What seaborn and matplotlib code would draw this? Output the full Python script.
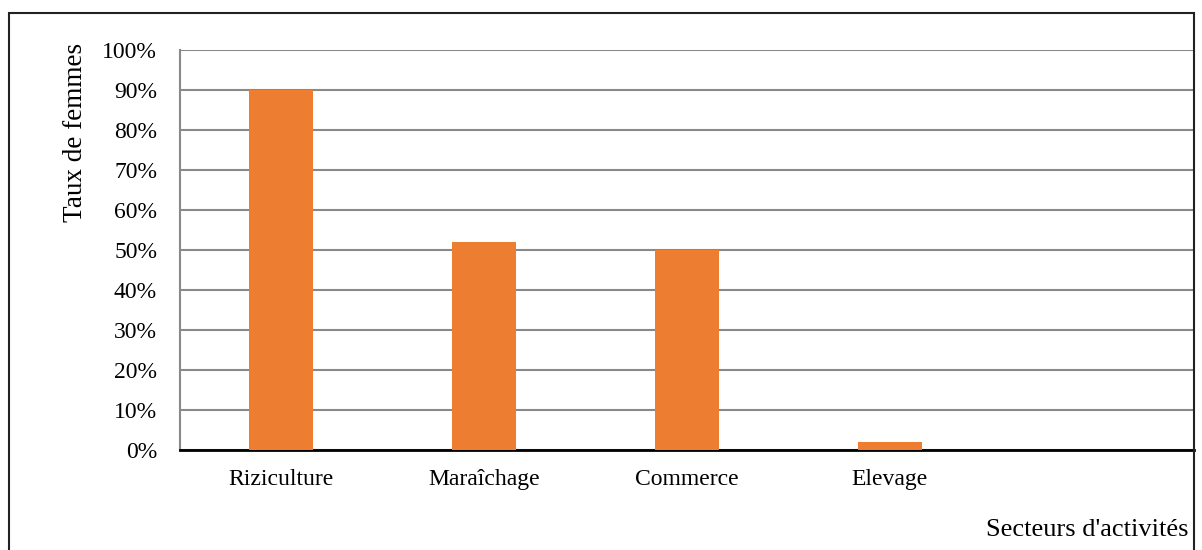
import pandas as pd
import matplotlib
matplotlib.use("Agg")
import matplotlib.pyplot as plt
import seaborn as sns
from matplotlib.patches import Rectangle
from matplotlib.ticker import FuncFormatter, MultipleLocator

# ===============================
# Données
# ===============================
secteurs = ["Riziculture", "Maraîchage", "Commerce", "Elevage"]
taux_femmes = [90, 52, 50, 2]  # en %

df = pd.DataFrame({"Secteur": secteurs, "Taux": taux_femmes})

# ===============================
# Plot
# ===============================
sns.set_style("white")
plt.rcParams["font.family"] = ["Liberation Serif", "DejaVu Serif"]
plt.rcParams["text.color"] = "black"
plt.rcParams["xtick.color"] = "black"
plt.rcParams["ytick.color"] = "black"

fig = plt.figure(figsize=(12.02, 5.5), dpi=100)
ax = fig.add_axes([180 / 1202, 1 - 450 / 550, 1014 / 1202, 400 / 550])

sns.barplot(data=df, x="Secteur", y="Taux", color="#ED7D31",
            saturation=1, width=0.315, linewidth=0, ax=ax, zorder=3)

# un cinquième emplacement vide à droite, comme dans l'original
ax.set_xlim(-0.5, 4.5)
ax.set_ylim(0, 100)
ax.yaxis.set_major_locator(MultipleLocator(10))
ax.yaxis.set_major_formatter(FuncFormatter(lambda v, p: f"{v:.0f}%"))

ax.grid(axis="y", color="#898989", linewidth=1.5, zorder=0)
ax.set_axisbelow(True)

for s in ["top", "right"]:
    ax.spines[s].set_visible(False)
ax.spines["left"].set_color("#898989")
ax.spines["left"].set_linewidth(1.5)
ax.spines["bottom"].set_color("black")
ax.spines["bottom"].set_linewidth(2)

ax.tick_params(axis="both", length=0, labelsize=17, labelcolor="black")
ax.tick_params(axis="y", pad=16.5)
ax.tick_params(axis="x", pad=14)
ax.set_xlabel("")
ax.set_ylabel("")

fig.text(75 / 1202, 1 - 132 / 550, "Taux de femmes", rotation=90,
         ha="center", va="center", fontsize=19.5, color="black")
fig.text(1188 / 1202, 1 - 530 / 550, "Secteurs d'activités",
         ha="right", va="center", fontsize=19, color="black")

# cadre extérieur
fig.patches.append(Rectangle((9 / 1202, -0.1), (1194 - 9) / 1202, 1.1 - 13 / 550,
                             transform=fig.transFigure, fill=False,
                             edgecolor="#222222", linewidth=1.5))

fig.savefig("out.png", dpi=100)
